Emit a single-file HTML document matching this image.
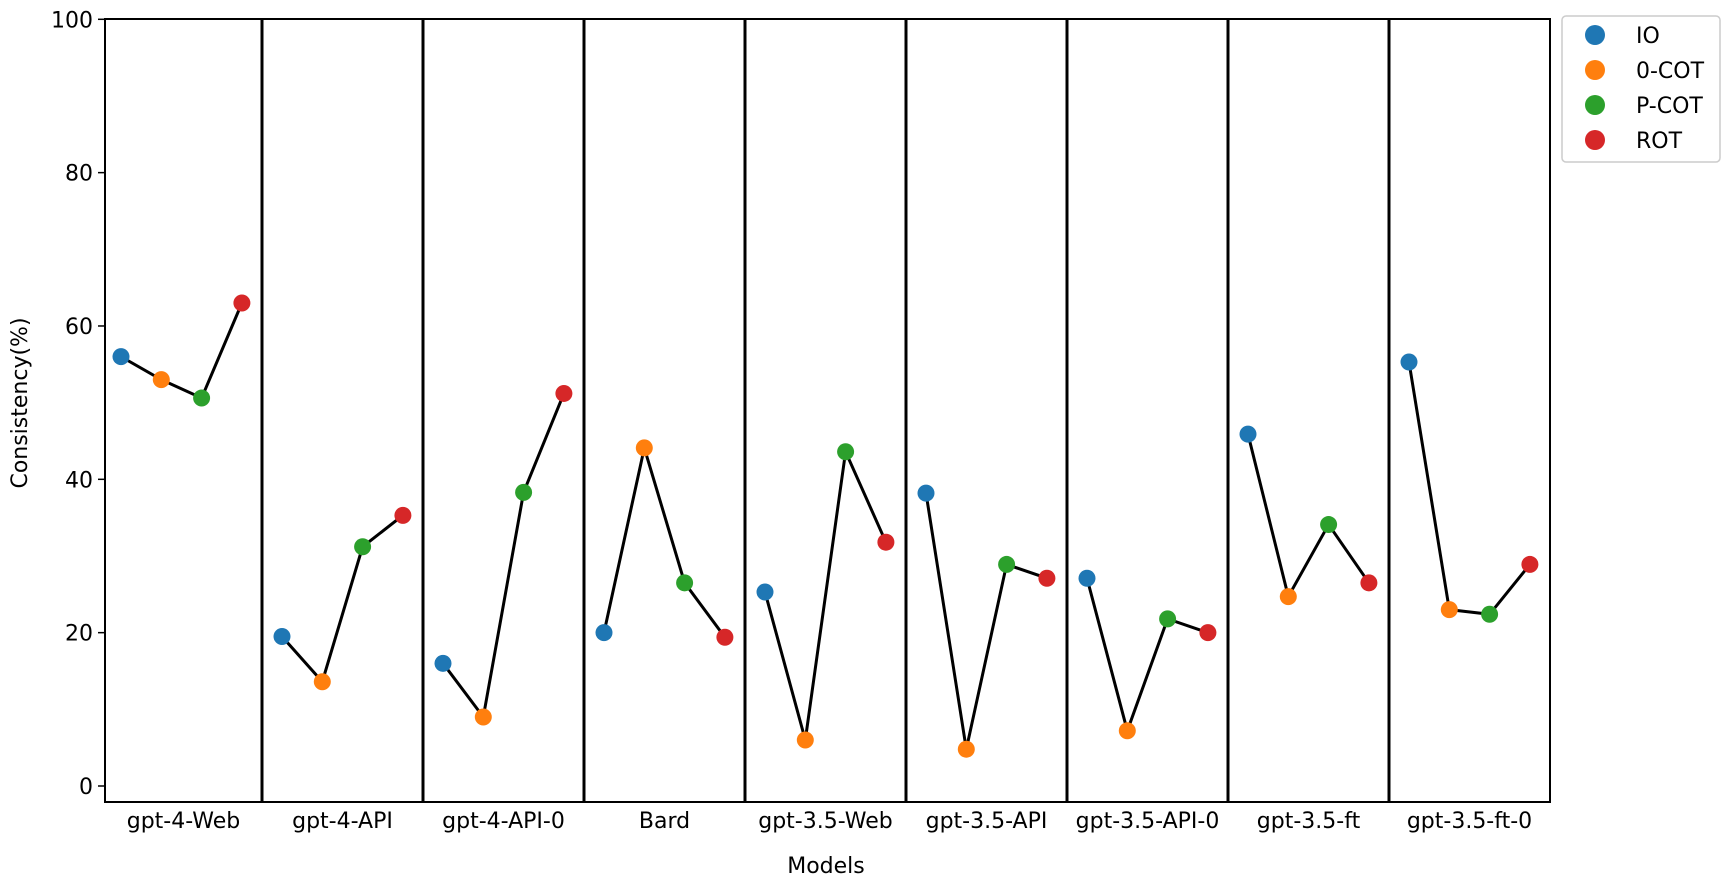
<!DOCTYPE html>
<html><head><meta charset="utf-8"><style>
body{margin:0;background:#fff}
svg text{font-family:"DejaVu Sans","Liberation Sans",sans-serif;fill:#000}
</style></head><body>
<svg id="chart" width="1728" height="883" xmlns="http://www.w3.org/2000/svg">
<g id="plot"></g>
<text x="27" y="403" font-size="22" text-anchor="middle" transform="rotate(-90 27 403)">Consistency(%)</text>
<text x="826" y="873" font-size="22" text-anchor="middle">Models</text>
<g>
<rect x="1562" y="16" width="158" height="146" rx="4" fill="#fff" stroke="#ccc" stroke-width="1.5"/>
<g><circle cx="1595" cy="35" r="10" fill="#1f77b4"/><text x="1636" y="43" font-size="22">IO</text></g>
<g><circle cx="1595" cy="70" r="10" fill="#ff7f0e"/><text x="1636" y="78" font-size="22">0-COT</text></g>
<g><circle cx="1595" cy="105" r="10" fill="#2ca02c"/><text x="1636" y="113" font-size="22">P-COT</text></g>
<g><circle cx="1595" cy="140" r="10" fill="#d62728"/><text x="1636" y="148" font-size="22">ROT</text></g>
</g>
</svg>
<script>
const models=["gpt-4-Web","gpt-4-API","gpt-4-API-0","Bard","gpt-3.5-Web","gpt-3.5-API","gpt-3.5-API-0","gpt-3.5-ft","gpt-3.5-ft-0"];
const methods=["IO","0-COT","P-COT","ROT"];
const ioVals=[56,19.5,16,20,25.3,38.2,27.1,45.9,55.3];
const cot0Vals=[53,13.6,9,44.1,6,4.8,7.2,24.7,23];
const pcotVals=[50.6,31.2,38.3,26.5,43.6,28.9,21.8,34.1,22.4];
const rotVals=[63,35.3,51.2,19.4,31.8,27.1,20,26.5,28.9];
const yTicks=[0,20,40,60,80,100];
const colors=["#1f77b4","#ff7f0e","#2ca02c","#d62728"];
const NS="http://www.w3.org/2000/svg";
const plot=document.getElementById('plot');
const L=105,R=1550,T=19,B=802,gw=161,g0=101;
const y=v=>786-v*7.667;
const gx=g=>g0+g*gw;
const px=(g,j)=>gx(g)+20+j*40.3;
function mk(tag,attrs,parent){const e=document.createElementNS(NS,tag);for(const k in attrs)e.setAttribute(k,attrs[k]);(parent||plot).appendChild(e);return e;}
yTicks.forEach(t=>{
 const l=mk('line',{x1:L-7,x2:L,y1:y(t),y2:y(t),stroke:'#000','stroke-width':1.5});
 
 
 const tx=mk('text',{x:L-12,y:y(t)+8,'font-size':22,'text-anchor':'end'});
 tx.textContent=t;
 
 
});
for(let k=1;k<models.length;k++){
 const s=mk('line',{x1:gx(k),x2:gx(k),y1:T,y2:B,stroke:'#000','stroke-width':3});
 
 
}
const series=[ioVals,cot0Vals,pcotVals,rotVals];
models.forEach((m,g)=>{
 const pts=series.map((s,j)=>px(g,j)+','+y(s[g])).join(' ');
 const pl=mk('polyline',{points:pts,fill:'none',stroke:'#000','stroke-width':3});
 
 
 series.forEach((s,j)=>{
  const c=mk('circle',{cx:px(g,j),cy:y(s[g]),r:8.5,fill:colors[j]});
  
  
 });
 const cx=(Math.max(gx(g),L)+gx(g+1))/2;
 const tx=mk('text',{x:cx,y:828,'font-size':22,'text-anchor':'middle'});
 tx.textContent=m;
 
 
});
const fr=mk('rect',{x:L,y:T,width:R-L,height:B-T,fill:'none',stroke:'#000','stroke-width':2});


</script>
</body></html>
